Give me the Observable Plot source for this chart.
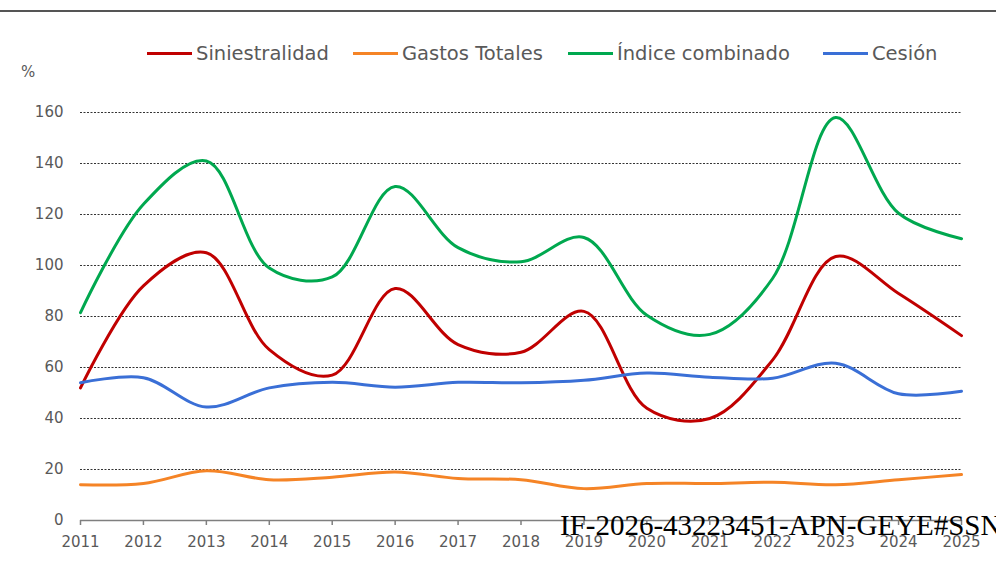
<!DOCTYPE html>
<html>
<head>
<meta charset="utf-8">
<script src="https://cdn.jsdelivr.net/npm/d3@7"></script>
<script src="https://cdn.jsdelivr.net/npm/@observablehq/plot@0.6"></script>
<style>
  html, body { margin: 0; padding: 0; background: #fff; }
  #wrap { position: relative; width: 996px; height: 579px; overflow: hidden; background: #fff; font-family: "DejaVu Sans", sans-serif; }
  #toprule { position: absolute; left: 0; top: 10px; width: 996px; height: 2px; background: #555; }
  .leg { position: absolute; top: 42px; height: 22px; display: flex; align-items: center; font-size: 19.5px; color: #595959; white-space: nowrap; }
  .leg .sw { width: 45px; height: 3px; margin-right: 4px; }
  #pct { position: absolute; left: 21px; top: 63px; font-size: 15px; color: #595959; }
  #chart { position: absolute; left: 0; top: 60px; }
  #stamp { position: absolute; left: 560px; top: 510px; font-family: "Liberation Serif", serif; font-size: 29px; line-height: 30px; color: #000; white-space: nowrap; }
</style>
</head>
<body>
<div id="wrap">
  <div id="toprule"></div>
  <div id="legend"></div>
  <div id="pct">%</div>
  <div id="chart"></div>
  <div id="stamp">IF-2026-43223451-APN-GEYE#SSN</div>
</div>
<script>
const years = [2011, 2012, 2013, 2014, 2015, 2016, 2017, 2018, 2019, 2020, 2021, 2022, 2023, 2024, 2025];
const siniestralidad = [52, 92, 105, 67, 57, 91, 69, 66, 82, 44, 40, 63, 103.5, 89, 72.5];
const gastosTotales = [14, 14.5, 19.5, 16, 17, 19, 16.5, 16, 12.5, 14.5, 14.5, 15, 14, 16, 18];
const indiceCombinado = [81.5, 124, 141, 99, 95.5, 131, 107, 101.5, 111, 80.5, 73, 95, 158, 120.5, 110.5];
const cesion = [54, 56, 44.5, 52, 54.2, 52.3, 54.2, 54, 55, 57.8, 56.2, 55.8, 61.7, 49.7, 50.7];
const seriesNames = ["Siniestralidad", "Gastos Totales", "Índice combinado", "Cesión"];
const seriesColors = ["#C00000", "#F58426", "#00A84F", "#3A6FD6"];
const yTicks = [0, 20, 40, 60, 80, 100, 120, 140, 160];

const seriesValues = [siniestralidad, gastosTotales, indiceCombinado, cesion];
const rows = [];
seriesNames.forEach((name, i) => {
  years.forEach((yr, j) => rows.push({ series: name, year: yr, value: seriesValues[i][j] }));
});

// legend (HTML)
const legendLefts = [147, 353, 568, 823];
const legend = document.getElementById("legend");
seriesNames.forEach((name, i) => {
  const item = document.createElement("div");
  item.className = "leg";
  item.style.left = legendLefts[i] + "px";
  const sw = document.createElement("div");
  sw.className = "sw";
  sw.style.background = seriesColors[i];
  const tx = document.createElement("span");
  tx.textContent = name;
  item.appendChild(sw);
  item.appendChild(tx);
  legend.appendChild(item);
});

const chart = Plot.plot({
  width: 996,
  height: 500,
  marginLeft: 80,
  marginRight: 35,
  marginTop: 52,
  marginBottom: 40,
  style: { fontFamily: "DejaVu Sans, sans-serif", fontSize: "15px", color: "#595959", background: "transparent" },
  x: { domain: [2011, 2025] },
  y: { domain: [0, 160] },
  color: { domain: seriesNames, range: seriesColors },
  marks: [
    Plot.ruleY(yTicks.filter(d => d > 0), { stroke: "#333", strokeWidth: 1, strokeDasharray: "2,1.5" }),
    Plot.axisY({ ticks: yTicks, tickSize: 0, tickPadding: 17, label: null, tickFormat: d => String(d) }),
    Plot.axisX({ ticks: years, tickSize: 5, tickPadding: 11, label: null, tickFormat: d => String(d), stroke: "#7f7f7f", strokeWidth: 1.5 }),
    Plot.ruleY([0], { stroke: "#7f7f7f", strokeWidth: 1.5 }),
    Plot.line(rows, { x: "year", y: "value", z: "series", stroke: "series", strokeWidth: 3, curve: "catmull-rom" })
  ]
});
document.getElementById("chart").appendChild(chart);
</script>
</body>
</html>
